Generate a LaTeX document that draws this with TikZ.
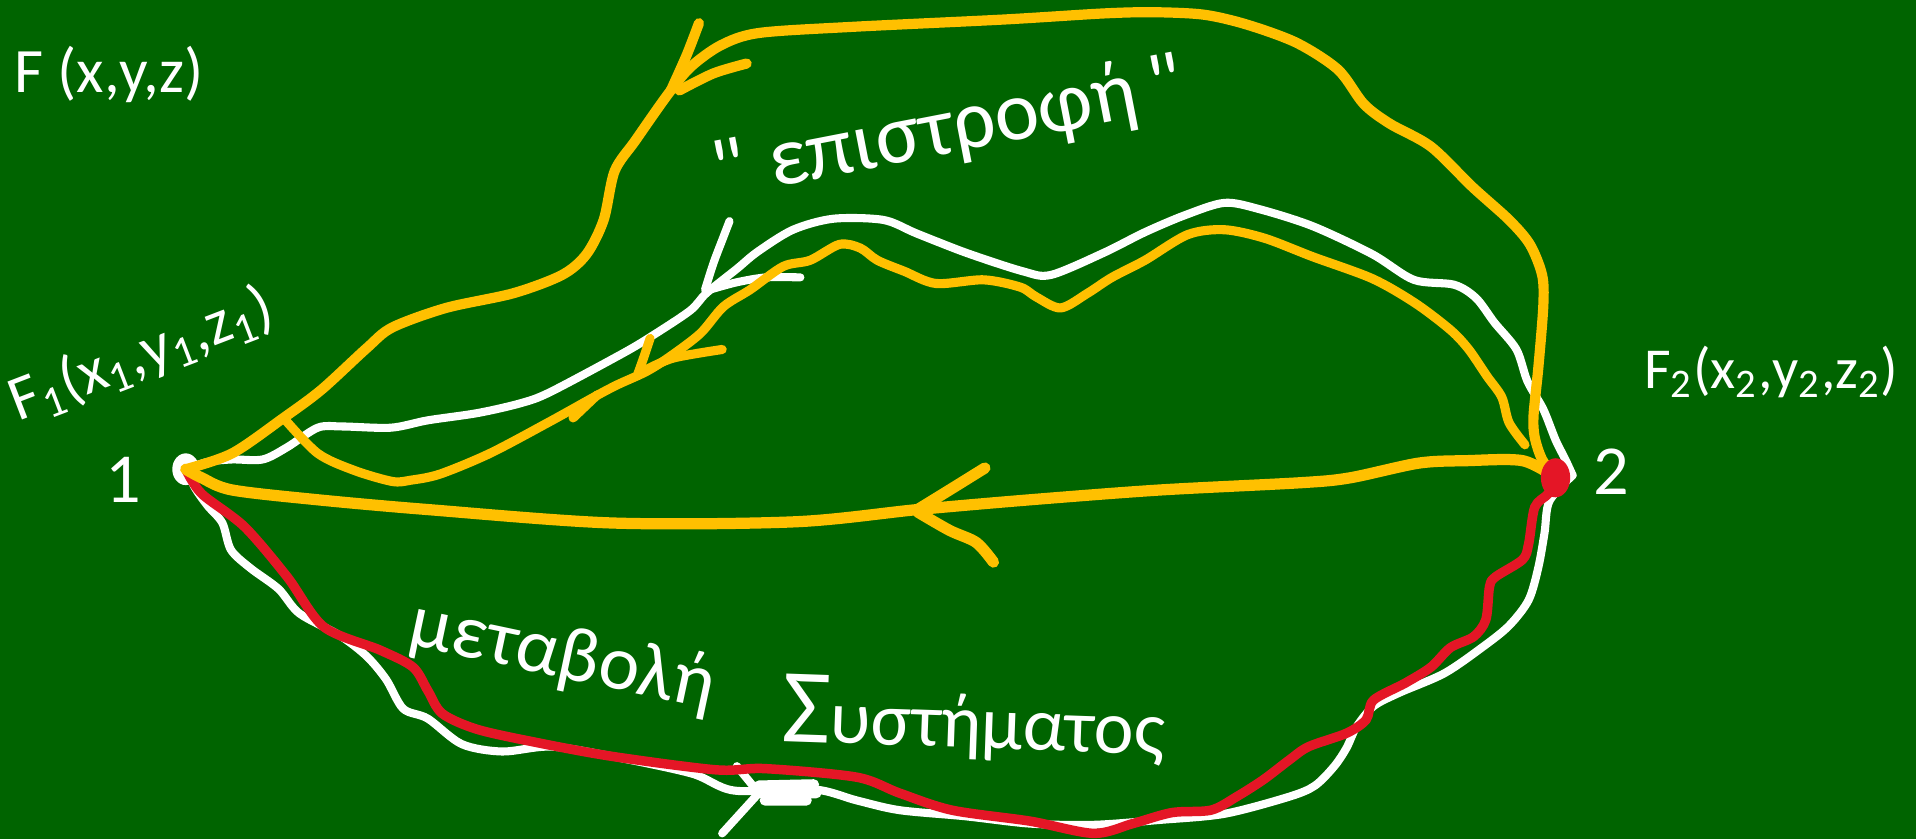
\documentclass[tikz,border=0pt]{standalone}
\usepackage{fontspec}
\setmainfont{Carlito}
\newfontfamily\quotefont{Carlito}
\definecolor{board}{RGB}{0,100,0}
\definecolor{chalkY}{RGB}{255,192,0}
\definecolor{chalkR}{RGB}{228,22,38}

\begin{document}
\begin{tikzpicture}[x=0.012219cm,y=-0.012219cm,line cap=round,line join=round,
  wl/.style={white,line width=2.3pt},
  yl/.style={chalkY,line width=2.6pt},
  rl/.style={chalkR,line width=2.7pt},
  lbl/.style={text=white,inner sep=0pt,font=\fontsize{18}{20}\selectfont}]
\useasboundingbox (0,0) rectangle (1568,687);
\fill[board] (0,0) rectangle (1568,687);
\coordinate (p1) at (152,384);
\coordinate (p2) at (1273,391);
\coordinate (w2) at (1287,389);
\coordinate (j1) at (232,342);
\coordinate (e2) at (1248,364);
% white path 1 -> 2 (bottom) and back (top)
\fill[white] (p1) ellipse (11 and 13);
\draw[wl] plot[smooth] coordinates {(p1) (160,400) (170,414) (182,428) (189,450) (205,465) (228,482) (245,502) (278,520) (300,537) (316,556) (330,580) (350,588) (378,609) (411,615) (451,611) (501,619) (566,633) (601,647) (666,646) (701,655) (736,663) (790,668) (843,674) (895,675) (949,671) (1002,666) (1055,652) (1076,643) (1092,627) (1102,612) (1110,595) (1124,578) (1145,567) (1182,551) (1214,529) (1235,512) (1251,491) (1259,464) (1264,436) (1268,410) (w2)};
\draw[wl] plot[smooth] coordinates {(w2) (1281,376) (1273,360) (1263,335) (1250,312) (1241,286) (1223,264) (1208,244) (1190,233) (1157,229) (1123,208) (1074,185) (1030,171) (1002,166) (970,176) (937,190) (903,207) (860,225) (837,222) (791,207) (750,191) (723,180) (682,179) (649,188) (620,206) (603,220) (578,240) (565,254) (535,274) (510,289) (450,321) (426,330) (391,338) (350,344) (320,350) (280,349) (260,350) (235,366) (215,376) (190,376) (170,378) (p1)};
\draw[wl] plot[smooth] coordinates {(597,181) (592,194) (584,215) (577,237)};
\draw[wl] plot[smooth] coordinates {(655,227) (627,227) (603,231) (581,237)};
\draw[wl] (603,627) -- (621,649) -- (591,682);
\draw[wl,line width=3pt] (621,643) -- (666,642) (623,649) -- (668,649) (626,655) -- (660,655);
% red path 1 -> 2
\draw[rl] plot[smooth] coordinates {(p1) (165,404) (200,431) (235,472) (265,513) (311,532) (338,546) (350,565) (362,584) (391,597) (441,608) (501,619) (586,630) (626,629) (701,636) (736,649) (779,663) (843,672) (895,682) (927,674) (959,665) (991,663) (1012,652) (1034,638) (1055,622) (1071,611) (1102,600) (1118,589) (1124,573) (1150,559) (1171,546) (1187,530) (1206,521) (1216,507) (1219,480) (1224,472) (1246,458) (1251,445) (1256,415) (1267,404) (p2)};
% yellow return paths 2 -> 1
\draw[yl,line width=3.2pt] plot[smooth] coordinates {(p2) (1246,377) (1200,377) (1161,379) (1105,391) (1065,395) (949,401) (843,409) (751,417) (651,427) (501,428) (350,417) (260,409) (190,401) (165,391) (p1)};
\draw[yl,line width=2.9pt] plot[smooth] coordinates {(p2) (1262,376) (1256,358) (1255,340) (1259,300) (1263,250) (1262,225) (1252,200) (1235,180) (1205,153) (1171,120) (1137,101) (1116,85) (1095,57) (1061,35) (1020,20) (985,12) (944,10) (903,11) (821,16) (697,22) (621,27) (590,37) (565,55) (546,78) (520,115) (503,140) (494,180) (480,208) (460,225) (420,240) (365,252) (321,268) (300,285) (263,319) (j1) (190,371) (p1)};
\draw[yl] plot[smooth] coordinates {(e2) (1235,346) (1229,325) (1217,308) (1202,286) (1187,270) (1158,248) (1123,228) (1074,210) (1035,195) (1002,188) (972,192) (937,213) (910,227) (890,240) (868,252) (848,243) (835,235) (805,229) (766,232) (740,222) (718,213) (704,203) (687,200) (663,213) (641,218) (614,237) (592,251) (573,273) (548,292) (529,304) (505,315) (486,325) (450,345) (401,371) (360,388) (336,393) (321,394) (290,385) (260,371) (j1)};
\draw[yl,line width=2.9pt] plot[smooth] coordinates {(572,19) (562,45) (549,74)};
\draw[yl,line width=2.9pt] plot[smooth] coordinates {(611,52) (584,60) (556,74)};
\draw[yl] plot[smooth] coordinates {(532,277) (527,292) (522,306)};
\draw[yl] plot[smooth] coordinates {(591,286) (551,293) (528,303)};
\draw[yl] (469,342) -- (489,323);
\draw[yl,line width=3.2pt] plot[smooth] coordinates {(806,383) (777,401) (751,417)};
\draw[yl,line width=3.2pt] plot[smooth] coordinates {(751,419) (777,434) (799,444) (813,460)};
\fill[chalkR] (p2) ellipse (12 and 16);
% labels
\node[lbl,anchor=base west] (fxyz) at (11,76) {F (x,y,z)};
\node[lbl,anchor=base west,rotate=21] (f1) at (15,345) {F\textsubscript{1}(x\textsubscript{1},y\textsubscript{1},z\textsubscript{1})};
\node[lbl,font=\fontsize{16.5}{20}\selectfont,anchor=base west] (f2) at (1345,318) {F\textsubscript{2}(x\textsubscript{2},y\textsubscript{2},z\textsubscript{2})};
\node[lbl,font=\fontsize{20}{22}\selectfont,anchor=base] (n1) at (101,411) {1};
\node[lbl,font=\fontsize{20}{22}\selectfont,anchor=base] (n2) at (1319,405) {2};
\node[lbl,font=\fontsize{24}{28}\selectfont,anchor=base,rotate=11] (ret) at (780,125) {{\quotefont"}\;επιστροφή\,{\quotefont"}};
\node[lbl,font=\fontsize{22}{26}\selectfont,anchor=base,rotate=-12] (chg) at (457,554) {μεταβολή};
\node[lbl,font=\fontsize{21.5}{26}\selectfont,anchor=base,rotate=-2] (sys) at (796,612) {{\fontsize{30}{30}\selectfont Σ}υστήματος};
\end{tikzpicture}
\end{document}
